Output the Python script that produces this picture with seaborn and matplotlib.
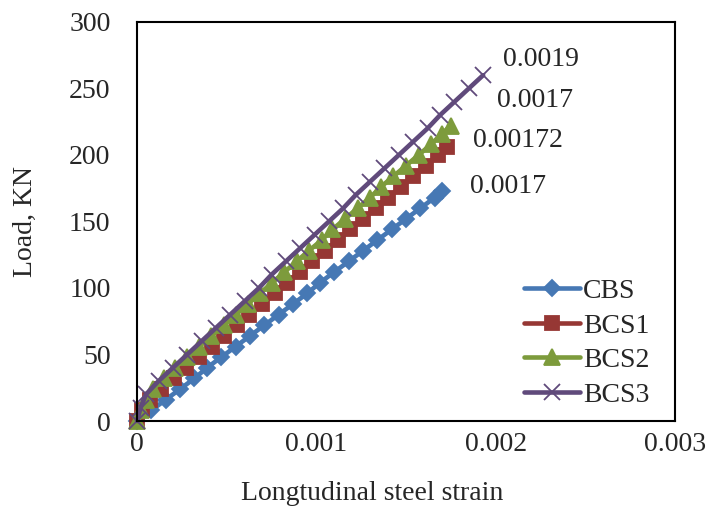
import seaborn as sns
import pandas as pd
import matplotlib.pyplot as plt

sns.set_style("white")
plt.rcParams['font.family'] = ['Liberation Serif', 'DejaVu Serif']

# Longitudinal steel strain vs load for each beam
cbs_strain = [0, 0.00008, 0.00016, 0.00024, 0.00032, 0.00039, 0.00047, 0.00055,
              0.00063, 0.00071, 0.00079, 0.00087, 0.00095, 0.00102, 0.0011,
              0.00118, 0.00126, 0.00134, 0.00142, 0.0015, 0.00158, 0.00166, 0.0017]
cbs_load = [0, 8, 16, 24, 32, 40, 48, 56, 64, 72, 80, 88, 96, 104, 112,
            120, 128, 136, 144, 152, 160, 168, 173]

bcs1_strain = [0, 0.00003, 0.00007, 0.000135, 0.000205, 0.000275, 0.000346, 0.000416,
               0.000486, 0.000556, 0.000626, 0.000696, 0.000767, 0.000837, 0.000907,
               0.000977, 0.00105, 0.00112, 0.00119, 0.00126, 0.00133, 0.0014,
               0.00147, 0.00154, 0.00161, 0.00168, 0.00173]
bcs1_load = [0, 8, 16, 24, 32, 40, 48, 56, 64, 72, 80, 88, 96, 104, 112,
             120, 128, 136, 144, 152, 160, 168, 176, 184, 192, 200, 206]

bcs2_strain = [0, 0.00002, 0.00005, 0.00009, 0.00015, 0.00021, 0.00028, 0.000347,
               0.000415, 0.000483, 0.000551, 0.000619, 0.000686, 0.000754, 0.000822,
               0.00089, 0.000958, 0.00103, 0.00109, 0.00116, 0.00123, 0.0013,
               0.00136, 0.00143, 0.0015, 0.00157, 0.00164, 0.0017, 0.00175]
bcs2_load = [0, 8, 16, 24, 32, 40, 48, 56, 64, 72, 80, 88, 96, 104, 112,
             120, 128, 136, 144, 152, 160, 168, 176, 184, 192, 200, 208, 216, 222]

bcs3_strain = [0, 0.00002, 0.00005, 0.00012, 0.0002, 0.00028, 0.00036, 0.00044,
               0.00052, 0.0006, 0.00068, 0.00075, 0.00083, 0.00091, 0.00099,
               0.00107, 0.00115, 0.00122, 0.0013, 0.00138, 0.00146, 0.00154,
               0.00162, 0.00169, 0.00177, 0.00185, 0.00193]
bcs3_load = [0, 10, 20, 30, 40, 50, 60, 70, 80, 90, 100, 110, 120, 130, 140,
             150, 160, 170, 180, 190, 200, 210, 220, 230, 240, 250, 260]

series_names = ['CBS', 'BCS1', 'BCS2', 'BCS3']
end_labels = ['0.0017', '0.00172', '0.0017', '0.0019']

frames = []
for name, s, l in zip(series_names,
                      [cbs_strain, bcs1_strain, bcs2_strain, bcs3_strain],
                      [cbs_load, bcs1_load, bcs2_load, bcs3_load]):
    frames.append(pd.DataFrame({'strain': s, 'load': l, 'series': name}))
df = pd.concat(frames, ignore_index=True)

colors = {'CBS': '#4678B4', 'BCS1': '#963734', 'BCS2': '#7D9B3C', 'BCS3': '#604A7B'}
markers = {'CBS': 'D', 'BCS1': 's', 'BCS2': '^', 'BCS3': 'x'}
msizes = {'CBS': 8.5, 'BCS1': 10.5, 'BCS2': 11.5, 'BCS3': 12}
# text offsets (points) of the end labels
offsets = {'CBS': (20, 3.5), 'BCS1': (18.5, 5), 'BCS2': (33, 18), 'BCS3': (14, 11)}

fig = plt.figure(figsize=(7.26, 5.16), dpi=100)
ax = fig.add_axes([0.1887, 0.1841, 0.7411, 0.7733])

for name, lab in zip(series_names, end_labels):
    sub = df[df['series'] == name]
    sns.lineplot(data=sub, x='strain', y='load', sort=False, estimator=None,
                 color=colors[name], linewidth=3.3, marker=markers[name],
                 markersize=msizes[name], markeredgecolor=colors[name],
                 markeredgewidth=1.3, label=name, clip_on=False, ax=ax)
    ax.annotate(lab, (sub['strain'].iloc[-1], sub['load'].iloc[-1]),
                xytext=offsets[name], textcoords='offset points',
                ha='left', va='center', fontsize=20)

ax.set_xlim(0, 0.003)
ax.set_ylim(0, 300)
ax.set_xticks([0, 0.001, 0.002, 0.003])
ax.set_xticklabels(['0', '0.001', '0.002', '0.003'])
ax.set_yticks(range(0, 301, 50))
ax.tick_params(direction='in', length=6.5, width=1.5, labelsize=20, color='black')
ax.tick_params(axis='y', pad=19)
ax.tick_params(axis='x', pad=8)
for sp in ax.spines.values():
    sp.set_color('black')
    sp.set_linewidth(1.5)

ax.set_xlabel('Longtudinal steel strain', fontsize=20)
ax.set_ylabel('Load, KN', fontsize=20)
ax.xaxis.set_label_coords(0.437, -0.15)
ax.yaxis.set_label_coords(-0.185, 0.5)

ax.legend(frameon=False, loc='upper left', bbox_to_anchor=(0.72, 0.357),
          borderpad=0, borderaxespad=0, fontsize=20, handlelength=2.0,
          handletextpad=0.1, labelspacing=0.33)

fig.savefig('out.png', dpi=100)
